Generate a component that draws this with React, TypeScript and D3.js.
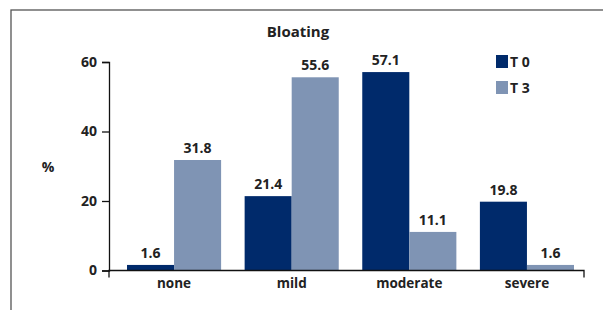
import * as d3 from "d3";
import { useEffect, useRef } from "react";

const categories = ["none", "mild", "moderate", "severe"];
const seriesNames = ["T 0", "T 3"];
const t0Values = [1.6, 21.4, 57.1, 19.8];
const t3Values = [31.8, 55.6, 11.1, 1.6];
const yTicks = [0, 20, 40, 60];

const colors = ["#002a6b", "#7f94b4"];
const font = "'Open Sans', 'Noto Sans', sans-serif";

const App = () => {
    const svgRef = useRef<SVGSVGElement | null>(null);

    useEffect(() => {
        if (!svgRef.current) return;
        const svg = d3.select(svgRef.current);
        svg.selectAll("*").remove();

        const axisLeftX = 109;
        const axisRightX = 584;
        const baseY = 270.5;
        const topY = 62;

        // frame
        svg.append("rect")
            .attr("x", 11)
            .attr("y", 10)
            .attr("width", 640)
            .attr("height", 340)
            .attr("fill", "none")
            .attr("stroke", "#555")
            .attr("stroke-width", 1.3);

        svg.append("text")
            .attr("x", 298)
            .attr("y", 37)
            .attr("text-anchor", "middle")
            .style("font-family", font)
            .style("font-weight", 700)
            .style("font-size", "15px")
            .attr("fill", "#222")
            .text("Bloating");

        const x = d3.scaleBand()
            .domain(categories)
            .range([127, 574])
            .paddingInner(0.2)
            .paddingOuter(0);

        const xSub = d3.scaleBand()
            .domain(seriesNames)
            .range([0, x.bandwidth()]);

        const y = d3.scaleLinear()
            .domain([0, 60])
            .range([baseY, topY]);

        // y axis
        const yAxis = d3.axisLeft(y)
            .tickValues(yTicks)
            .tickSize(7)
            .tickPadding(5);

        const gy = svg.append("g")
            .attr("transform", `translate(${axisLeftX},0)`)
            .call(yAxis);
        gy.select(".domain").attr("stroke", "#111").attr("stroke-width", 1.3);
        gy.selectAll(".tick line").attr("stroke", "#111").attr("stroke-width", 1.3);
        gy.selectAll(".tick text")
            .style("font-family", font)
            .style("font-weight", 700)
            .style("font-size", "14px")
            .attr("fill", "#222");

        svg.append("text")
            .attr("x", 48)
            .attr("y", 172)
            .attr("text-anchor", "middle")
            .style("font-family", font)
            .style("font-weight", 700)
            .style("font-size", "14px")
            .attr("fill", "#222")
            .text("%");

        // bars
        const series = [t0Values, t3Values];
        const g = svg.append("g");
        series.forEach((vals, si) => {
            g.selectAll(`.bar-${si}`)
                .data(categories)
                .enter()
                .append("rect")
                .attr("x", (c) => (x(c) ?? 0) + (xSub(seriesNames[si]) ?? 0))
                .attr("y", (c, i) => y(vals[i]))
                .attr("width", xSub.bandwidth())
                .attr("height", (c, i) => baseY - y(vals[i]))
                .attr("fill", colors[si]);

            g.selectAll(`.lbl-${si}`)
                .data(categories)
                .enter()
                .append("text")
                .attr("x", (c) => (x(c) ?? 0) + (xSub(seriesNames[si]) ?? 0) + xSub.bandwidth() / 2)
                .attr("y", (c, i) => y(vals[i]) - 7)
                .attr("text-anchor", "middle")
                .style("font-family", font)
                .style("font-weight", 700)
                .style("font-size", "14px")
                .attr("fill", "#222")
                .text((c, i) => vals[i].toFixed(1));
        });

        // x axis
        svg.append("path")
            .attr("d", `M${axisLeftX},${baseY + 7}V${baseY}H${axisRightX}V${baseY + 7}`)
            .attr("fill", "none")
            .attr("stroke", "#111")
            .attr("stroke-width", 1.3);

        svg.selectAll(".xlabel")
            .data(categories)
            .enter()
            .append("text")
            .attr("x", (c) => (x(c) ?? 0) + x.bandwidth() / 2)
            .attr("y", 288)
            .attr("text-anchor", "middle")
            .style("font-family", font)
            .style("font-weight", 700)
            .style("font-size", "13.5px")
            .attr("fill", "#222")
            .text((c) => c);

        // legend
        seriesNames.forEach((s, i) => {
            const ly = 55 + i * 26;
            svg.append("rect")
                .attr("x", 496)
                .attr("y", ly)
                .attr("width", 12)
                .attr("height", 13)
                .attr("fill", colors[i]);
            svg.append("text")
                .attr("x", 510)
                .attr("y", ly + 11.5)
                .style("font-family", font)
                .style("font-weight", 700)
                .style("font-size", "14px")
                .attr("fill", "#222")
                .text(s);
        });
    }, []);

    return (
        <svg
            ref={svgRef}
            width={603}
            height={310}
            style={{ position: "absolute", left: 0, top: 0, background: "#fff" }}
        />
    );
};

export default App;
